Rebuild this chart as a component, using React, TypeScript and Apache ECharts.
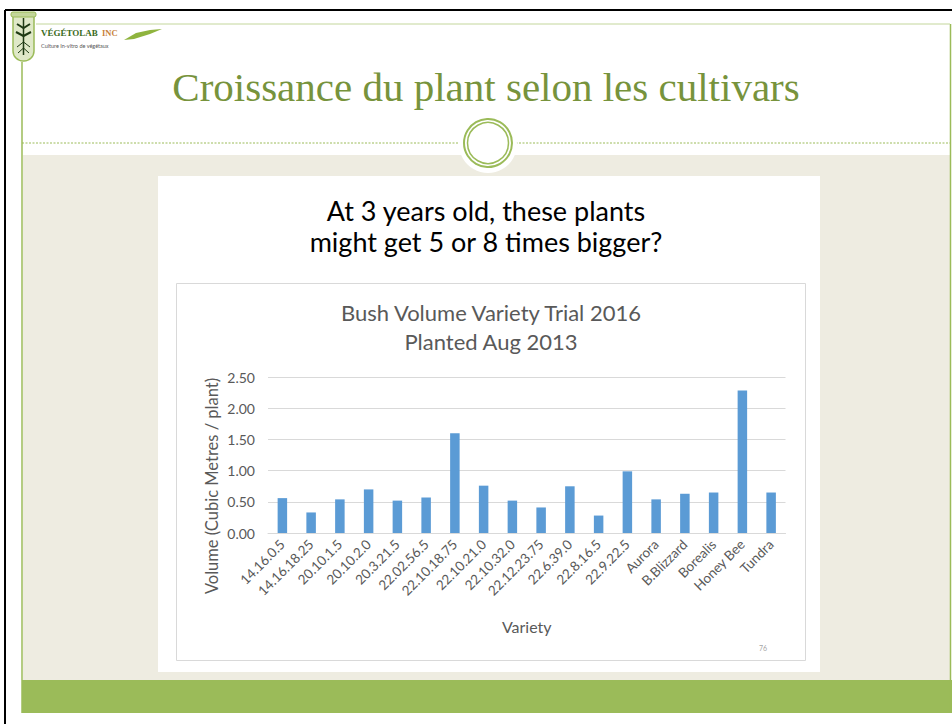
import React, { useEffect, useRef } from "react";
import * as echarts from "echarts";

const varieties = [
  "14.16.0.5", "14.16.18.25", "20.10.1.5", "20.10.2.0", "20.3.21.5", "22.02.56.5",
  "22.10.18.75", "22.10.21.0", "22.10.32.0", "22.12.23.75", "22.6.39.0", "22.8.16.5",
  "22.9.22.5", "Aurora", "B.Blizzard", "Borealis", "Honey Bee", "Tundra",
];
const volumes = [
  0.56, 0.33, 0.54, 0.70, 0.52, 0.57, 1.60, 0.76, 0.52, 0.41, 0.75, 0.28,
  0.99, 0.54, 0.63, 0.65, 2.29, 0.65,
];
const yMin = 0;
const yMax = 2.5;
const yStep = 0.5;

const slideTitle = "Croissance du plant selon les cultivars";
const subtitleLines = ["At 3 years old, these plants", "might get 5 or 8 times bigger?"];
const chartTitleLines = ["Bush Volume Variety Trial 2016", "Planted Aug 2013"];
const xName = "Variety";
const yName = "Volume (Cubic Metres / plant)";

const GREEN = "#9bbb59";
const SANS = "Lato, 'Open Sans', sans-serif";
const GRAY = "#595959";

export default function App() {
  const ref = useRef<HTMLDivElement>(null);
  useEffect(() => {
    const chart = echarts.init(ref.current!, null, { renderer: "svg" });
    chart.setOption({
      animation: false,
      backgroundColor: "#ffffff",
      grid: { left: 268, right: 166.5, top: 377.3, bottom: 191, containLabel: false },
      xAxis: {
        type: "category",
        data: varieties,
        name: xName,
        nameLocation: "middle",
        nameGap: 85,
        nameTextStyle: { fontFamily: SANS, fontSize: 16, color: GRAY },
        axisLine: { show: true, lineStyle: { color: "#d9d9d9" } },
        axisTick: { show: false },
        axisLabel: {
          rotate: 45,
          interval: 0,
          margin: 9,
          fontFamily: SANS,
          fontSize: 13.5,
          color: GRAY,
        },
      },
      yAxis: {
        type: "value",
        min: yMin,
        max: yMax,
        interval: yStep,
        axisLine: { show: false },
        axisTick: { show: false },
        splitLine: { lineStyle: { color: "#d9d9d9", width: 1 } },
        axisLabel: {
          margin: 13,
          fontFamily: SANS,
          fontSize: 14,
          color: GRAY,
          formatter: (v: number) => v.toFixed(2),
        },
      },
      series: [
        {
          type: "bar",
          data: volumes,
          barWidth: 9.5,
          itemStyle: { color: "#5b9bd5" },
        },
      ],
      graphic: [
        // beige band
        { type: "rect", z: -10, shape: { x: 23, y: 155, width: 927, height: 525 }, style: { fill: "#eeece1" } },
        // green footer band
        { type: "rect", z: -10, shape: { x: 22, y: 680, width: 930, height: 33 }, style: { fill: GREEN } },
        // black frame
        { type: "line", z: -5, shape: { x1: 5, y1: 10, x2: 952, y2: 10 }, style: { stroke: "#000", lineWidth: 2 } },
        { type: "line", z: -5, shape: { x1: 5, y1: 10, x2: 5, y2: 724 }, style: { stroke: "#000", lineWidth: 2 } },
        // green side lines
        { type: "line", z: -5, shape: { x1: 22, y1: 62, x2: 22, y2: 713 }, style: { stroke: GREEN, lineWidth: 1.5 } },
        { type: "line", z: -5, shape: { x1: 950.5, y1: 24, x2: 950.5, y2: 713 }, style: { stroke: GREEN, lineWidth: 1.5 } },
        { type: "line", z: -5, shape: { x1: 36, y1: 24, x2: 950, y2: 24 }, style: { stroke: "#c3d69b", lineWidth: 1 } },
        // dotted divider
        { type: "line", z: -5, shape: { x1: 22, y1: 143, x2: 950, y2: 143 }, style: { stroke: GREEN, lineWidth: 1, lineDash: [2, 1.5] } },
        // circle ornament
        { type: "circle", z: -4, shape: { cx: 488, cy: 144, r: 29 }, style: { fill: "#ffffff" } },
        { type: "circle", z: -3, shape: { cx: 488, cy: 143, r: 24 }, style: { fill: "#ffffff", stroke: GREEN, lineWidth: 2 } },
        { type: "circle", z: -3, shape: { cx: 488, cy: 143, r: 20.5 }, style: { fill: "none", stroke: GREEN, lineWidth: 1.5 } },
        // white panel
        { type: "rect", z: -4, shape: { x: 158, y: 176, width: 662, height: 496 }, style: { fill: "#ffffff" } },
        // chart box
        { type: "rect", z: -3, shape: { x: 176.5, y: 283.5, width: 629, height: 377 }, style: { fill: "#ffffff", stroke: "#d9d9d9", lineWidth: 1 } },
        // logo tube
        { type: "rect", z: -3, shape: { x: 13, y: 13, width: 21, height: 48, r: [2, 2, 10, 10] }, style: { fill: "#dfe8c8", stroke: GREEN, lineWidth: 1.5 } },
        { type: "rect", z: -3, shape: { x: 11, y: 12, width: 25, height: 5, r: 2 }, style: { fill: "#c3d69b", stroke: GREEN, lineWidth: 1 } },
        { type: "line", z: -2, shape: { x1: 23.5, y1: 18, x2: 23.5, y2: 55 }, style: { stroke: "#1f3a14", lineWidth: 1.5 } },
        { type: "polyline", z: -2, shape: { points: [[17, 24], [23.5, 28], [30, 24]] }, style: { stroke: "#1f3a14", lineWidth: 2, fill: "none" } },
        { type: "polyline", z: -2, shape: { points: [[16, 32], [23.5, 36], [31, 32]] }, style: { stroke: "#1f3a14", lineWidth: 2, fill: "none" } },
        { type: "polyline", z: -2, shape: { points: [[17, 47], [23.5, 42], [30, 47]] }, style: { stroke: "#1f3a14", lineWidth: 1, fill: "none" } },
        { type: "polyline", z: -2, shape: { points: [[18, 53], [23.5, 48], [29, 53]] }, style: { stroke: "#1f3a14", lineWidth: 1, fill: "none" } },
        { type: "text", z: -2, style: { x: 41, y: 33, text: "VÉGÉTOLAB", font: "bold 9px 'Liberation Serif', serif", fill: "#3b6b22", textVerticalAlign: "middle" } },
        { type: "text", z: -2, style: { x: 102, y: 33, text: "INC", font: "bold 8.5px 'Liberation Serif', serif", fill: "#c8823a", textVerticalAlign: "middle" } },
        { type: "polygon", z: -2, shape: { points: [[124, 40], [136, 33], [150, 30], [162, 29], [150, 34], [134, 39]] }, style: { fill: "#8fb43e" } },
        { type: "text", z: -2, style: { x: 41, y: 46, text: "Culture In-vitro de végétaux", font: "5.5px " + SANS, fill: "#555555", textVerticalAlign: "middle" } },
        // slide title
        { type: "text", z: 5, style: { x: 486, y: 87, text: slideTitle, font: "41px 'Liberation Serif', serif", fill: "#77933c", textAlign: "center", textVerticalAlign: "middle" } },
        // subtitle
        { type: "text", z: 5, style: { x: 486, y: 210, text: subtitleLines[0], font: "27px " + SANS, fill: "#000000", textAlign: "center", textVerticalAlign: "middle" } },
        { type: "text", z: 5, style: { x: 486, y: 241, text: subtitleLines[1], font: "27px " + SANS, fill: "#000000", textAlign: "center", textVerticalAlign: "middle" } },
        // chart title
        { type: "text", z: 5, style: { x: 491, y: 312, text: chartTitleLines[0], font: "22px " + SANS, fill: GRAY, textAlign: "center", textVerticalAlign: "middle" } },
        { type: "text", z: 5, style: { x: 491, y: 341, text: chartTitleLines[1], font: "22px " + SANS, fill: GRAY, textAlign: "center", textVerticalAlign: "middle" } },
        // y axis name
        { type: "text", z: 5, x: 212, y: 486, rotation: Math.PI / 2, style: { x: 0, y: 0, text: yName, font: "16.5px " + SANS, fill: GRAY, textAlign: "center", textVerticalAlign: "middle" } },
        // page number
        { type: "text", z: 5, style: { x: 763, y: 648, text: "76", font: "7px " + SANS, fill: "#a6a6a6", textAlign: "center", textVerticalAlign: "middle" } },
      ],
    });
    return () => chart.dispose();
  }, []);
  return (
    <div
      ref={ref}
      style={{ position: "absolute", left: 0, top: 0, width: 952, height: 724 }}
    />
  );
}
